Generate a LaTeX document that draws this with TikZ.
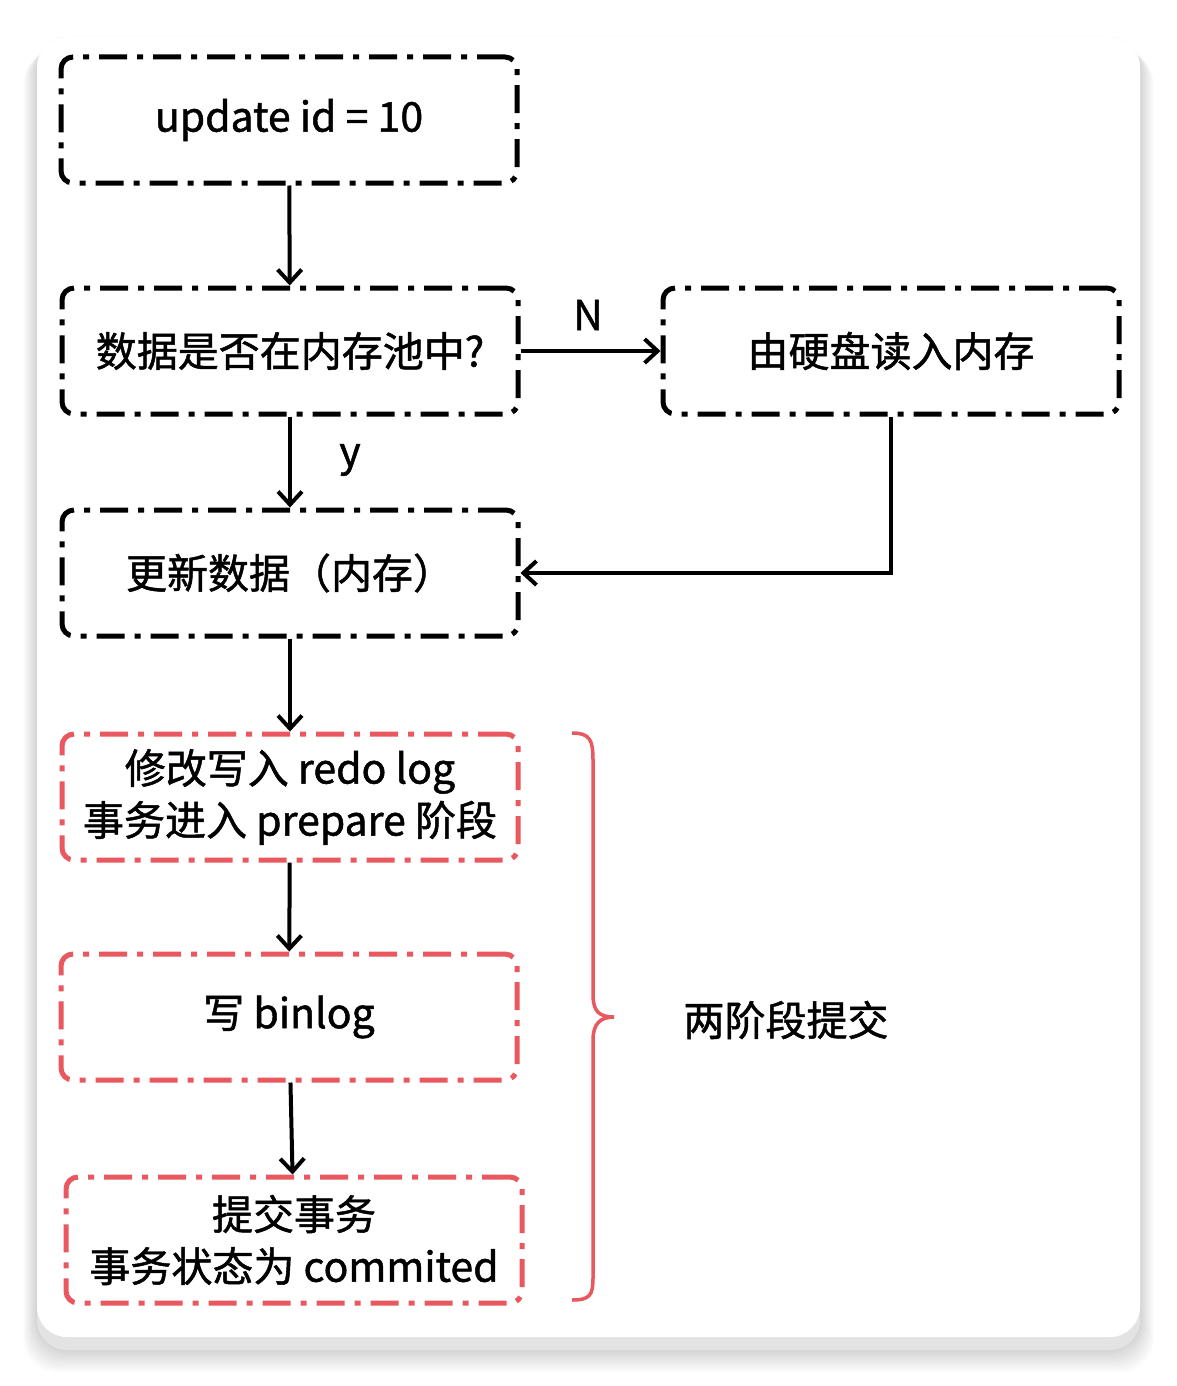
\documentclass[tikz,border=0pt]{standalone}
\usepackage{fontspec}
\setmainfont{Noto Sans CJK SC}[FakeBold=1.2]
\usepackage{xcolor}
\usetikzlibrary{arrows.meta}
\definecolor{phasered}{RGB}{233,88,94}
\tikzstyle{none}=[inner sep=0mm]
\tikzstyle{flowbox}=[draw=black,line width=5pt,rounded corners=12pt,dash pattern=on 28pt off 10pt on 6pt off 10pt,minimum width=456pt,minimum height=126pt,align=center,font=\fontsize{41}{52}\selectfont]
\tikzstyle{redbox}=[flowbox,draw=phasered]
\tikzstyle{arr}=[line width=4pt,-{Straight Barb[length=13pt,width=24pt,line width=4pt]}]
\tikzstyle{lbl}=[none,font=\fontsize{41}{48}\selectfont]

\begin{document}
\begin{tikzpicture}[x=1pt,y=-1pt]
	\useasboundingbox (0,0) rectangle (1176,1386);
	% card and its shadow
	\foreach \s in {1,...,14}
		\fill[black,opacity=0.012,rounded corners=34pt] (37-\s,37+\s) rectangle (1140+\s,1350+1.6*\s);
	\fill[black!11,rounded corners=30pt] (37,37) rectangle (1140,1350);
	\fill[white,rounded corners=30pt] (37,37) rectangle (1140,1337);
	% nodes
	\node [style=flowbox] (update) at (289, 120) {update id = 10};
	\node [style=flowbox] (inpool) at (290, 351) {数据是否在内存池中?};
	\node [style=flowbox] (disk) at (891, 351) {由硬盘读入内存};
	\node [style=flowbox] (modify) at (290, 573) {更新数据（内存）};
	\node [style=redbox] (redo) at (290, 797) {修改写入 redo log\\事务进入 prepare 阶段};
	\node [style=redbox] (binlog) at (289, 1017) {写 binlog};
	\node [style=redbox] (commit) at (294, 1240) {提交事务\\事务状态为 commited};
	\node [style=lbl] (no) at (588, 315) {N};
	\node [style=lbl] (yes) at (350, 460) {y};
	\node [style=lbl] (twophase) at (786, 1020) {两阶段提交};
	% edges
	\draw[arr] (update) to (inpool);
	\draw[arr] (inpool) to (disk);
	\draw[arr] (inpool) to (modify);
	\draw[arr] (disk.south) |- (modify.east);
	\draw[arr] (modify) to (redo);
	\draw[arr] (redo) to (binlog);
	\draw[arr] (binlog) to (commit);
	% brace
	\draw[phasered,line width=3.5pt] (572,733) .. controls (590,733) and (593,740) .. (593,760) -- (593,995) .. controls (593,1012) and (600,1017) .. (614,1017);
	\draw[phasered,line width=3.5pt] (614,1017) .. controls (600,1017) and (593,1024) .. (593,1040) -- (593,1278) .. controls (593,1295) and (590,1300) .. (572,1300);
\end{tikzpicture}
\end{document}
